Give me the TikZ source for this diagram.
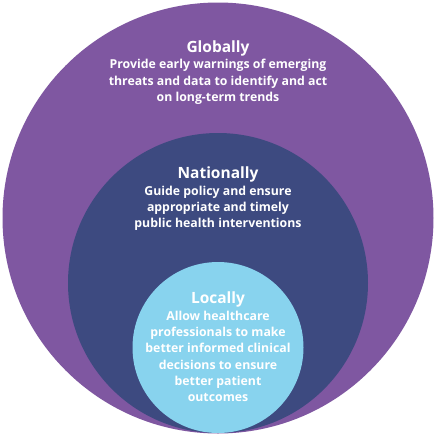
\documentclass[tikz,border=0pt]{standalone}
\usepackage{fontspec}
\setmainfont{Open Sans}
\definecolor{globalc}{HTML}{7F57A1}
\definecolor{nationalc}{HTML}{3D4A80}
\definecolor{localc}{HTML}{88D3EE}
\tikzset{
  ring/.style={circle, inner sep=0pt, draw=none},
  title/.style={text=white, font=\fontsize{15.5}{18}\selectfont\bfseries, inner sep=0pt},
  body/.style={text=white, font=\fontsize{12.3}{16.3}\selectfont\bfseries, align=center, inner sep=0pt},
}
\begin{document}
\begin{tikzpicture}[x=1pt,y=-1pt]
\useasboundingbox (0,0) rectangle (436,437);
\fill[white] (0,0) rectangle (436,437);
\node[ring, fill=globalc, minimum size=431pt] (global) at (218,218) {};
\node[ring, fill=nationalc, minimum size=300pt] (national) at (218,283) {};
\node[ring, fill=localc, minimum size=171pt] (local) at (218,347.5) {};
\node[title] (gt) at (218,48) {Globally};
\node[body] (gb) at (218,82) {Provide early warnings of emerging\\threats and data to identify and act\\on long-term trends};
\node[title] (nt) at (218,174) {Nationally};
\node[body] (nb) at (218,208.5) {Guide policy and ensure\\appropriate and timely\\public health interventions};
\node[title] (lt) at (218,299) {Locally};
\node[body] (lb) at (218,356.5) {Allow healthcare\\professionals to make\\better informed clinical\\decisions to ensure\\better patient\\outcomes};
\end{tikzpicture}
\end{document}
